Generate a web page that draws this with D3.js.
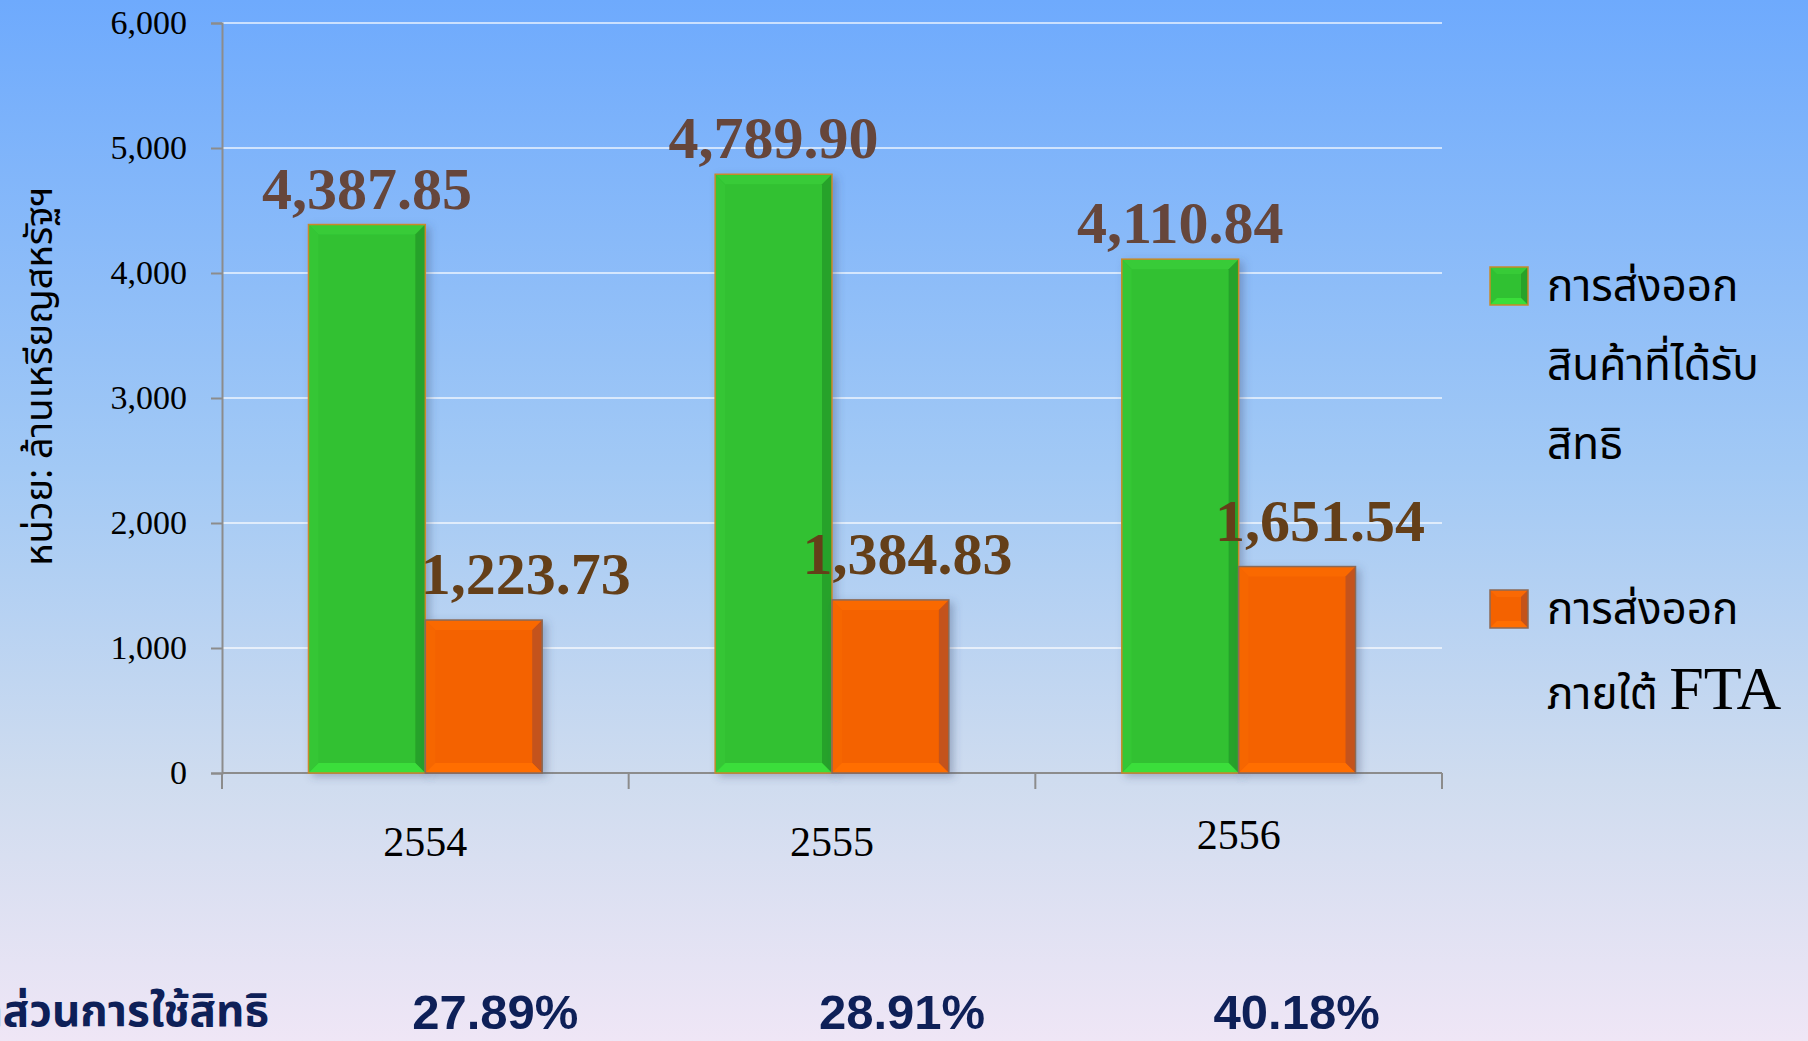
<!DOCTYPE html>
<html>
<head>
<meta charset="utf-8">
<script src="https://cdn.jsdelivr.net/npm/d3@7"></script>
<style>
  html, body { margin: 0; padding: 0; overflow: hidden; }
  body { width: 1808px; height: 1041px; }
  text { font-family: "Liberation Serif", "DejaVu Serif", serif; }
</style>
</head>
<body>
<div id="chart"></div>
<script>
// chart data
const years = ['2554', '2555', '2556'];
const seriesNames = ['การส่งออกสินค้าที่ได้รับสิทธิ', 'การส่งออกภายใต้ FTA'];
const privilegeExports = [4387.85, 4789.90, 4110.84];
const ftaExports = [1223.73, 1384.83, 1651.54];
const usageShares = ['27.89%', '28.91%', '40.18%'];
const yTicks = [0, 1000, 2000, 3000, 4000, 5000, 6000];

const W = 1808, H = 1041;
const plot = {left: 222, right: 1442, top: 23, bottom: 773};

const svg = d3.select('#chart').append('svg')
  .attr('width', W)
  .attr('height', H);

const defs = svg.append('defs');

// background gradient
const bg = defs.append('linearGradient')
  .attr('id', 'bg')
  .attr('x1', 0).attr('y1', 0).attr('x2', 0).attr('y2', 1);
bg.append('stop').attr('offset', '0%').attr('stop-color', '#6eaafd');
bg.append('stop').attr('offset', '45%').attr('stop-color', '#a2c9f5');
bg.append('stop').attr('offset', '75%').attr('stop-color', '#cfdcef');
bg.append('stop').attr('offset', '100%').attr('stop-color', '#efe6f6');

const shadow = defs.append('filter')
  .attr('id', 'shadow')
  .attr('x', '-20%').attr('y', '-20%').attr('width', '150%').attr('height', '150%');
shadow.append('feDropShadow')
  .attr('dx', 4).attr('dy', 3).attr('stdDeviation', 4)
  .attr('flood-color', '#3a4a70').attr('flood-opacity', 0.35);

svg.append('rect')
  .attr('width', W).attr('height', H)
  .attr('fill', 'url(#bg)');

// scales
const x0 = d3.scaleBand()
  .domain(years)
  .range([plot.left, plot.right]);

const x1 = d3.scaleBand()
  .domain([0, 1])
  .range([0, x0.bandwidth()])
  .paddingInner(0)
  .paddingOuter(0.74);

const y = d3.scaleLinear()
  .domain([0, 6000])
  .range([plot.bottom, plot.top]);

// gridlines
svg.append('g')
  .selectAll('line')
  .data(yTicks.filter(d => d > 0))
  .enter()
  .append('line')
  .attr('x1', plot.left)
  .attr('x2', plot.right)
  .attr('y1', d => y(d))
  .attr('y2', d => y(d))
  .attr('stroke', '#ffffff')
  .attr('stroke-opacity', 0.85)
  .attr('stroke-width', 1.3);

// y axis
const yAxis = svg.append('g')
  .attr('transform', `translate(${plot.left},0)`)
  .call(d3.axisLeft(y).tickValues(yTicks).tickSize(11).tickPadding(24)
    .tickFormat(d3.format(',')));
yAxis.select('.domain').attr('stroke', '#8c8c8c').attr('stroke-width', 2);
yAxis.selectAll('.tick line').attr('stroke', '#8c8c8c').attr('stroke-width', 2);
yAxis.selectAll('.tick text')
  .attr('fill', '#000')
  .style('font-family', '"Liberation Serif", serif')
  .style('font-size', '34px');

// x axis
const xAxis = svg.append('g')
  .attr('transform', `translate(0,${plot.bottom})`)
  .call(d3.axisBottom(x0).tickSize(0).tickPadding(0).tickFormat(''));
xAxis.select('.domain').attr('stroke', '#8c8c8c').attr('stroke-width', 2)
  .attr('d', `M${plot.left},0H${plot.right}`);
// category boundary ticks
svg.append('g')
  .selectAll('line')
  .data(years.concat(['end']))
  .enter()
  .append('line')
  .attr('x1', (d, i) => i < years.length ? x0(d) : x0(years[years.length - 1]) + x0.bandwidth())
  .attr('x2', (d, i) => i < years.length ? x0(d) : x0(years[years.length - 1]) + x0.bandwidth())
  .attr('y1', plot.bottom)
  .attr('y2', plot.bottom + 16)
  .attr('stroke', '#8c8c8c')
  .attr('stroke-width', 2);

svg.append('g')
  .selectAll('text')
  .data(years)
  .enter()
  .append('text')
  .attr('x', d => x0(d) + x0.bandwidth() / 2)
  .attr('y', (d, i) => i === 2 ? 849 : 856)
  .attr('text-anchor', 'middle')
  .style('font-size', '42px')
  .attr('fill', '#000')
  .text(d => d);

// y axis title
svg.append('text')
  .attr('transform', 'translate(52,376) rotate(-90)')
  .attr('text-anchor', 'middle')
  .style('font-family', '"Noto Sans Thai", "Noto Sans", "DejaVu Sans", sans-serif')
  .style('font-size', '38px')
  .attr('fill', '#000')
  .text('หน่วย: ล้านเหรียญสหรัฐฯ');

// bars
const seriesData = [privilegeExports, ftaExports];
const colors = [
  {base: '#30c132', top: '#37cb37', left: '#34c634', right: '#28a229', bottom: '#3ade3a', stroke: '#c9892a'},
  {base: '#f46200', top: '#fa6904', left: '#f66603', right: '#c4531a', bottom: '#ff6e00', stroke: '#8a6a58'}
];
const bevel = 10;

const bars = [];
years.forEach((yr, i) => {
  seriesData.forEach((vals, s) => {
    bars.push({year: yr, series: s, value: vals[i], idx: i});
  });
});

const barG = svg.append('g');
bars.forEach(b => {
  const bx = x0(b.year) + x1(b.series);
  const bw = x1.bandwidth();
  const by = y(b.value);
  const bh = y(0) - by;
  const c = colors[b.series];
  const g = barG.append('g').attr('filter', 'url(#shadow)');
  g.append('rect')
    .attr('x', bx).attr('y', by)
    .attr('width', bw).attr('height', bh)
    .attr('fill', c.base);
  // bevel edges
  const x2 = bx + bw, y2 = by + bh;
  g.append('path').attr('fill', c.top)
    .attr('d', `M${bx},${by}L${x2},${by}L${x2 - bevel},${by + bevel}L${bx + bevel},${by + bevel}Z`);
  g.append('path').attr('fill', c.left)
    .attr('d', `M${bx},${by}L${bx + bevel},${by + bevel}L${bx + bevel},${y2 - bevel}L${bx},${y2}Z`);
  g.append('path').attr('fill', c.right)
    .attr('d', `M${x2},${by}L${x2},${y2}L${x2 - bevel},${y2 - bevel}L${x2 - bevel},${by + bevel}Z`);
  g.append('path').attr('fill', c.bottom)
    .attr('d', `M${bx},${y2}L${x2},${y2}L${x2 - bevel},${y2 - bevel}L${bx + bevel},${y2 - bevel}Z`);
  g.append('rect')
    .attr('x', bx).attr('y', by)
    .attr('width', bw).attr('height', bh)
    .attr('fill', 'none')
    .attr('stroke', c.stroke)
    .attr('stroke-width', 1.5);
});

// value labels (orange labels sit a little to the right, as in the original)
const labelColors = ['#66463b', '#643f19'];
const orangeDx = [42, 17, 23];
const labelDy = [-16, -26];
svg.append('g')
  .selectAll('text')
  .data(bars)
  .enter()
  .append('text')
  .attr('x', d => x0(d.year) + x1(d.series) + x1.bandwidth() / 2 + (d.series === 1 ? orangeDx[d.idx] : 0))
  .attr('y', d => y(d.value) + labelDy[d.series])
  .attr('text-anchor', 'middle')
  .style('font-size', '60px')
  .style('font-weight', 'bold')
  .attr('fill', d => labelColors[d.series])
  .text(d => d3.format(',.2f')(d.value));

// legend
const legend = svg.append('g');
const legendItems = [
  {lines: ['การส่งออก', 'สินค้าที่ได้รับ', 'สิทธิ'], y: 267},
  {lines: ['การส่งออก', 'ภายใต้ FTA'], y: 590}
];
legendItems.forEach((item, s) => {
  const c = colors[s];
  const lx = 1490, ly = item.y, sz = 38, bv = 7;
  legend.append('rect').attr('x', lx).attr('y', ly).attr('width', sz).attr('height', sz).attr('fill', c.base);
  legend.append('path').attr('fill', c.top)
    .attr('d', `M${lx},${ly}L${lx + sz},${ly}L${lx + sz - bv},${ly + bv}L${lx + bv},${ly + bv}Z`);
  legend.append('path').attr('fill', c.right)
    .attr('d', `M${lx + sz},${ly}L${lx + sz},${ly + sz}L${lx + sz - bv},${ly + sz - bv}L${lx + sz - bv},${ly + bv}Z`);
  legend.append('path').attr('fill', c.bottom)
    .attr('d', `M${lx},${ly + sz}L${lx + sz},${ly + sz}L${lx + sz - bv},${ly + sz - bv}L${lx + bv},${ly + sz - bv}Z`);
  legend.append('rect').attr('x', lx).attr('y', ly).attr('width', sz).attr('height', sz)
    .attr('fill', 'none').attr('stroke', c.stroke).attr('stroke-width', 1.5);
  item.lines.forEach((line, j) => {
    const t = legend.append('text')
      .attr('x', 1547)
      .attr('y', ly + 34 + j * (s === 0 ? 79 : 85))
      .style('font-family', '"Noto Sans Thai", "Noto Sans", "DejaVu Sans", sans-serif')
      .style('font-size', '44px')
      .attr('fill', '#000');
    if (line.indexOf('FTA') >= 0) {
      t.append('tspan').text(line.replace('FTA', ''));
      t.append('tspan')
        .style('font-family', '"Liberation Serif", serif')
        .style('font-size', '62px')
        .text('FTA');
    } else {
      t.text(line);
    }
  });
});

// usage share row
svg.append('text')
  .attr('x', 269)
  .attr('y', 1026)
  .attr('text-anchor', 'end')
  .style('font-family', '"Noto Sans Thai", "Noto Sans", "DejaVu Sans", sans-serif')
  .style('font-size', '44px')
  .style('font-weight', 'bold')
  .attr('fill', '#0e2058')
  .text('สัดส่วนการใช้สิทธิ');

const shareDx = [70, 70, 58];
svg.append('g')
  .selectAll('text')
  .data(usageShares)
  .enter()
  .append('text')
  .attr('x', (d, i) => x0(years[i]) + x0.bandwidth() / 2 + shareDx[i])
  .attr('y', 1029)
  .attr('text-anchor', 'middle')
  .style('font-family', '"Liberation Sans", Arial, sans-serif')
  .style('font-size', '49px')
  .style('font-weight', 'bold')
  .attr('fill', '#0e2058')
  .text(d => d);
</script>
</body>
</html>
